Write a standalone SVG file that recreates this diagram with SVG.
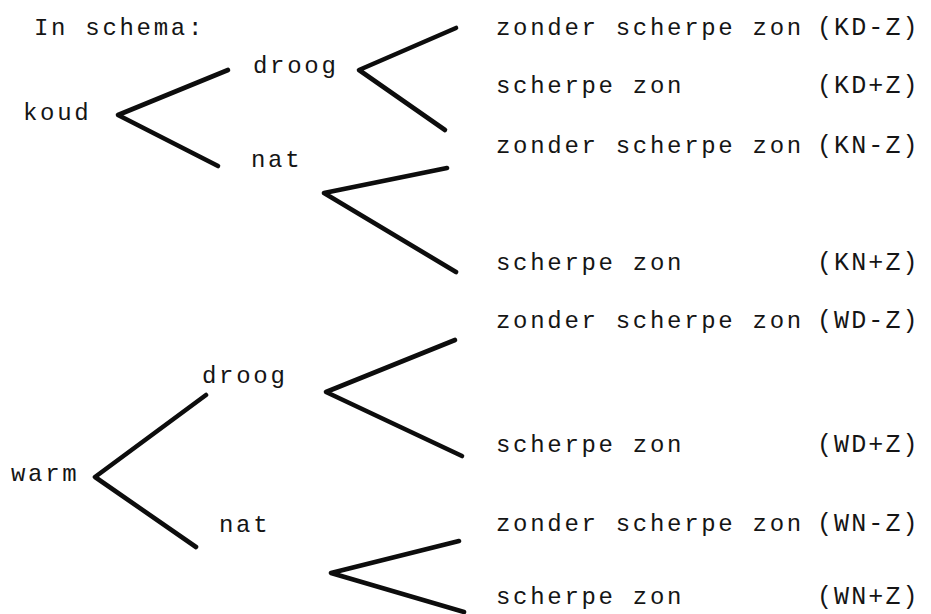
<svg xmlns="http://www.w3.org/2000/svg" width="931" height="614" viewBox="0 0 931 614">
  <style>
    text { font-family: "Liberation Mono", "DejaVu Sans Mono", monospace; font-size: 24px; letter-spacing: 2.7px; fill: #151515; }
    .code { font-size: 25px; letter-spacing: 2.1px; }
    .branch { fill: none; stroke: #0d0d0d; stroke-width: 4.6; stroke-linecap: round; stroke-linejoin: round; }
  </style>
  <rect width="931" height="614" fill="#ffffff"/>

  <!-- title -->
  <g id="title"><text x="34" y="35">In schema:</text></g>

  <!-- branching strokes -->
  <g id="connectors">
    <polyline class="branch" points="228,70 118,115 218,166"/>
    <polyline class="branch" points="456,28 359,70 445,130"/>
    <polyline class="branch" points="447,168 324,193 456,272"/>
    <polyline class="branch" points="455,340 326,392 462,456"/>
    <polyline class="branch" points="206,395 95,477 196,547"/>
    <polyline class="branch" points="459,541 331,573 464,612"/>
  </g>

  <!-- first level -->
  <g id="koud"><text x="23" y="120">koud</text></g>
  <g id="warm"><text x="11" y="481">warm</text></g>

  <!-- second level -->
  <g id="koud-droog"><text x="253" y="73">droog</text></g>
  <g id="koud-nat"><text x="251" y="167">nat</text></g>
  <g id="warm-droog"><text x="202" y="383">droog</text></g>
  <g id="warm-nat"><text x="219" y="532">nat</text></g>

  <!-- outcomes -->
  <g id="KD-Z"><text x="496" y="35">zonder scherpe zon</text><text class="code" x="817" y="35">(KD-Z)</text></g>
  <g id="KD+Z"><text x="496" y="93">scherpe zon</text><text class="code" x="817" y="93">(KD+Z)</text></g>
  <g id="KN-Z"><text x="496" y="153">zonder scherpe zon</text><text class="code" x="817" y="153">(KN-Z)</text></g>
  <g id="KN+Z"><text x="496" y="270">scherpe zon</text><text class="code" x="817" y="270">(KN+Z)</text></g>
  <g id="WD-Z"><text x="496" y="328">zonder scherpe zon</text><text class="code" x="817" y="328">(WD-Z)</text></g>
  <g id="WD+Z"><text x="496" y="452">scherpe zon</text><text class="code" x="817" y="452">(WD+Z)</text></g>
  <g id="WN-Z"><text x="496" y="531">zonder scherpe zon</text><text class="code" x="817" y="531">(WN-Z)</text></g>
  <g id="WN+Z"><text x="496" y="604">scherpe zon</text><text class="code" x="817" y="604">(WN+Z)</text></g>
</svg>
